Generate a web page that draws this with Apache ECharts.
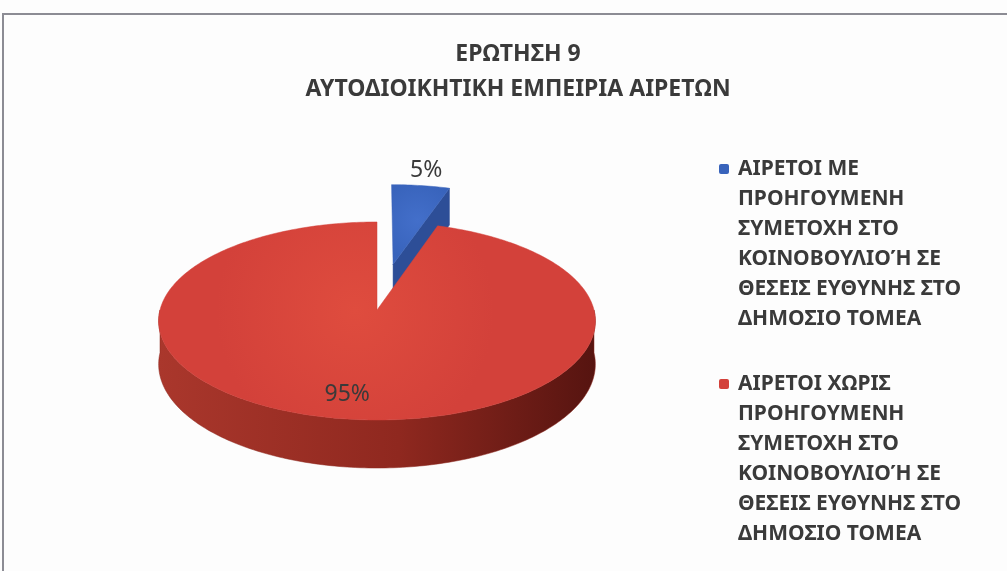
<!DOCTYPE html>
<html>
<head>
<meta charset="utf-8">
<script src="https://cdn.jsdelivr.net/npm/echarts@6/dist/echarts.min.js"></script>
<style>
  html, body { margin: 0; padding: 0; background: #fdfdfd; }
  #chart { width: 1007px; height: 571px; }
</style>
</head>
<body>
<div id="chart"></div>
<script>
const titleLines = ["ΕΡΩΤΗΣΗ 9", "ΑΥΤΟΔΙΟΙΚΗΤΙΚΗ ΕΜΠΕΙΡΙΑ ΑΙΡΕΤΩΝ"];
const categories = [
  "ΑΙΡΕΤΟΙ ΜΕ\nΠΡΟΗΓΟΥΜΕΝΗ\nΣΥΜΕΤΟΧΗ ΣΤΟ\nΚΟΙΝΟΒΟΥΛΙΟΉ ΣΕ\nΘΕΣΕΙΣ ΕΥΘΥΝΗΣ ΣΤΟ\nΔΗΜΟΣΙΟ ΤΟΜΕΑ",
  "ΑΙΡΕΤΟΙ ΧΩΡΙΣ\nΠΡΟΗΓΟΥΜΕΝΗ\nΣΥΜΕΤΟΧΗ ΣΤΟ\nΚΟΙΝΟΒΟΥΛΙΟΉ ΣΕ\nΘΕΣΕΙΣ ΕΥΘΥΝΗΣ ΣΤΟ\nΔΗΜΟΣΙΟ ΤΟΜΕΑ",
];
const values = [5, 95];

// look of the 3d pie: [centre, edge] for the top, [left, middle, right] for the side
const topColors = [["#436fca", "#3863bb"], ["#df4c3e", "#d3413a"]];
const sideColors = [["#34589f", "#2d4e97", "#22397a"], ["#aa372c", "#8f281f", "#561410"]];
const explode = [0.5, 0];
const FONT = "'Noto Sans', 'DejaVu Sans', sans-serif";
const TEXT = "#3a3a3a";

// pie geometry (px), with a little perspective so the back is smaller
const CX = 377, CY = 310, RX = 217, RY = 97.8, PERSP = 0.111, DEPTH = 42.7;

const rad = (d) => (d * Math.PI) / 180;

function project(x, z, drop) {
  const f = 1 / (1 + PERSP * z);
  return [CX + RX * x * f, CY - RY * z * f + DEPTH * drop * f];
}

function makeRenderItem(idx) {
  return function (params, api) {
    const total = values.reduce((a, b) => a + b, 0);
    const before = values.slice(0, idx).reduce((a, b) => a + b, 0);
    const v = api.value(0);
    // Excel style: first slice starts at 12 o'clock and runs clockwise
    const hi = 90 - (360 * before) / total;
    const lo = hi - (360 * v) / total;
    const mid = rad((lo + hi) / 2);
    const ox = explode[idx] * Math.cos(mid);
    const oz = explode[idx] * Math.sin(mid);
    const pt = (a, r, drop) => project(ox + r * Math.cos(rad(a)), oz + r * Math.sin(rad(a)), drop);
    const arc = (a0, a1, r, drop) => {
      const n = Math.max(2, Math.ceil(Math.abs(a1 - a0)));
      const out = [];
      for (let k = 0; k <= n; k++) out.push(pt(a0 + ((a1 - a0) * k) / n, r, drop));
      return out;
    };

    const side = sideColors[idx];
    const children = [];
    const sideFill = {
      type: "linear", x: 0, y: 0, x2: 1, y2: 0,
      colorStops: [
        { offset: 0, color: side[0] },
        { offset: 0.55, color: side[1] },
        { offset: 1, color: side[2] },
      ],
    };

    // outer wall, only the part facing the viewer
    for (let k = -1; k <= 1; k++) {
      const s = Math.max(lo, 180 + 360 * k);
      const e = Math.min(hi, 360 + 360 * k);
      if (e > s) {
        const pts = arc(s, e, 1, 0).concat(arc(e, s, 1, 1));
        children.push({ type: "polygon", shape: { points: pts }, style: { fill: sideFill, stroke: side[1], lineWidth: 0.5 } });
      }
    }

    // cut faces that face the front
    const cutFace = (a) => ({
      type: "polygon",
      shape: { points: [pt(a, 0, 0), pt(a, 1, 0), pt(a, 1, 1), pt(a, 0, 1)] },
      style: { fill: side[1], stroke: side[1], lineWidth: 0.5 },
    });
    if (Math.cos(rad(lo)) > 1e-6) children.push(cutFace(lo));
    if (Math.cos(rad(hi)) < -1e-6) children.push(cutFace(hi));

    // top face
    children.push({
      type: "polygon",
      shape: { points: [pt(0, 0, 0)].concat(arc(lo, hi, 1, 0)) },
      style: {
        fill: {
          type: "radial", x: 0.45, y: 0.45, r: 0.7,
          colorStops: [
            { offset: 0, color: topColors[idx][0] },
            { offset: 1, color: topColors[idx][1] },
          ],
        },
        stroke: topColors[idx][1],
        lineWidth: 0.5,
      },
    });

    // percentage label: small slices outside, big ones inside
    const share = v / total;
    const lr = share < 0.1 ? 1.22 : 0.8;
    const lp = pt((lo + hi) / 2, lr, 0);
    children.push({
      type: "text",
      style: {
        text: Math.round(share * 100) + "%",
        x: lp[0],
        y: lp[1],
        align: "center",
        verticalAlign: "middle",
        fontFamily: FONT,
        fontSize: 23,
        fill: TEXT,
      },
    });

    return { type: "group", children };
  };
}

const rich = {
  ind: { width: 19, lineHeight: 30 },
  gap: { width: 9, lineHeight: 30 },
};
topColors.forEach((c, i) => {
  rich["ic" + i] = { width: 10, height: 10, backgroundColor: c[1], borderRadius: 2, lineHeight: 30 };
});

const chart = echarts.init(document.getElementById("chart"), null, { renderer: "canvas" });

chart.setOption({
  backgroundColor: "#fdfdfd",
  animation: false,
  title: {
    text: titleLines.join("\n"),
    left: 513,
    textAlign: "center",
    top: 32,
    textStyle: { fontFamily: FONT, fontSize: 23, fontWeight: "bold", color: TEXT, lineHeight: 35 },
  },
  legend: {
    orient: "vertical",
    left: 709,
    top: 149,
    icon: "none",
    itemWidth: 0,
    itemHeight: 2,
    itemGap: 35,
    selectedMode: false,
    data: categories,
    formatter: (name) => {
      const i = categories.indexOf(name);
      return name
        .split("\n")
        .map((line, k) => (k === 0 ? `{ic${i}|}{gap|}` : "{ind|}") + line)
        .join("\n");
    },
    textStyle: { fontFamily: FONT, fontSize: 21, fontWeight: "bold", color: TEXT, lineHeight: 30, rich },
  },
  graphic: [
    {
      type: "polyline",
      shape: { points: [[3, 571], [3, 14], [1007, 14]] },
      style: { stroke: "#8c8c94", lineWidth: 2, fill: null },
      silent: true,
    },
  ],
  series: categories.map((name, i) => ({
    type: "custom",
    name,
    coordinateSystem: "none",
    z: 2 + i,
    itemStyle: { color: topColors[i][1] },
    renderItem: makeRenderItem(i),
    data: [values[i]],
  })),
});
</script>
</body>
</html>
